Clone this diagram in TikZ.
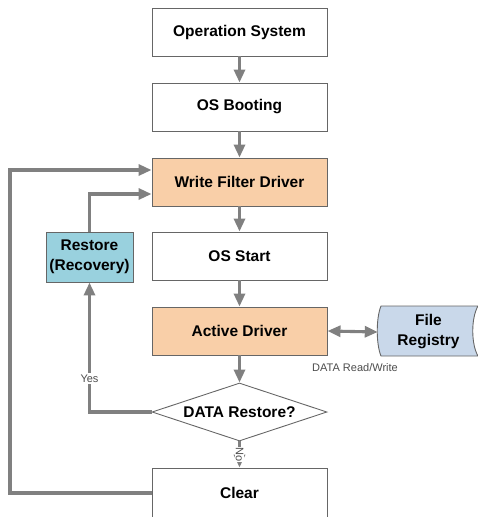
\documentclass[tikz,border=0pt]{standalone}
\usepackage{fontspec}
\setmainfont{Liberation Sans}
\usetikzlibrary{arrows.meta,shapes.geometric}
\definecolor{orangefill}{HTML}{F9CFA8}
\definecolor{restfill}{HTML}{99D1DE}
\definecolor{filefill}{HTML}{C9D8EA}
\definecolor{arrgray}{HTML}{808080}
\definecolor{edgegray}{HTML}{666666}
\tikzset{
  box/.style={draw=edgegray, line width=0.9pt, minimum width=175pt, minimum height=48pt, inner sep=0pt, font=\fontsize{15.5}{18}\selectfont\bfseries, align=center},
  dia/.style={diamond, draw=edgegray, line width=0.9pt, minimum width=175pt, minimum height=58pt, inner sep=0pt, aspect=3, font=\fontsize{15.5}{18}\selectfont\bfseries},
  arr/.style={draw=arrgray, line width=3.1pt, -{Triangle[length=13pt,width=11pt]}},
  dbl/.style={draw=arrgray, line width=3.1pt, {Triangle[length=13pt,width=11pt]}-{Triangle[length=13pt,width=11pt]}},
  small/.style={font=\fontsize{11}{12}\selectfont, text=black!70, inner sep=1.5pt},
}
\begin{document}
\begin{tikzpicture}[x=1pt,y=-1pt]
\useasboundingbox (0,0) rectangle (478,517);
\clip (0,0) rectangle (478,517);
\node[box] (os) at (239.5,32) {Operation System};
\node[box] (boot) at (239.5,107) {OS Booting};
\node[box, fill=orangefill] (wfd) at (239.5,182) {Write Filter Driver};
\node[box] (start) at (239.5,256) {OS Start};
\node[box, fill=orangefill] (act) at (239.5,331) {Active Driver};
\node[dia] (dec) at (239.5,412) {DATA Restore?};
\node[box, minimum height=50pt] (clear) at (239.5,493) {Clear};
\node[box, fill=restfill, minimum width=87pt, minimum height=50pt, font=\fontsize{15.5}{20}\selectfont\bfseries] (rest) at (89.5,257) {Restore\\(Recovery)};
% File Registry
\fill[filefill, draw=edgegray, line width=0.9pt] (381,306) .. controls (376,318) and (376,344) .. (381,356) -- (478,356) .. controls (471,344) and (471,318) .. (478,306) -- cycle;
\node[font=\fontsize{15.5}{20}\selectfont\bfseries, align=center, minimum width=101pt, minimum height=50pt, inner sep=0pt] (reg) at (428.5,332) {File\\Registry};
\coordinate (y170) at (0,170);
\coordinate (y193) at (0,194);
\coordinate (x10) at (10,0);
% arrows
\draw[arr] (os) -- (boot);
\draw[arr] (boot) -- (wfd);
\draw[arr] (wfd) -- (start);
\draw[arr] (start) -- (act);
\draw[arr] (act) -- (dec);
\draw[arr] (dec) -- (clear) node[midway, rotate=-90, fill=white, small, inner sep=0.5pt] {No};
\draw[dbl] (act.east) -- (reg.west);
\node[small] (rw) at (355,368) {DATA Read/Write};
\draw[arr] (dec.west) -| (rest.south) node[pos=0.63, fill=white, small] {Yes};
\draw[arr] (rest.north) |- (wfd.west |- y193);
\draw[arr] (clear.west) -- (x10 |- clear.west) -- (x10 |- y170) -- (wfd.west |- y170);
\end{tikzpicture}
\end{document}
